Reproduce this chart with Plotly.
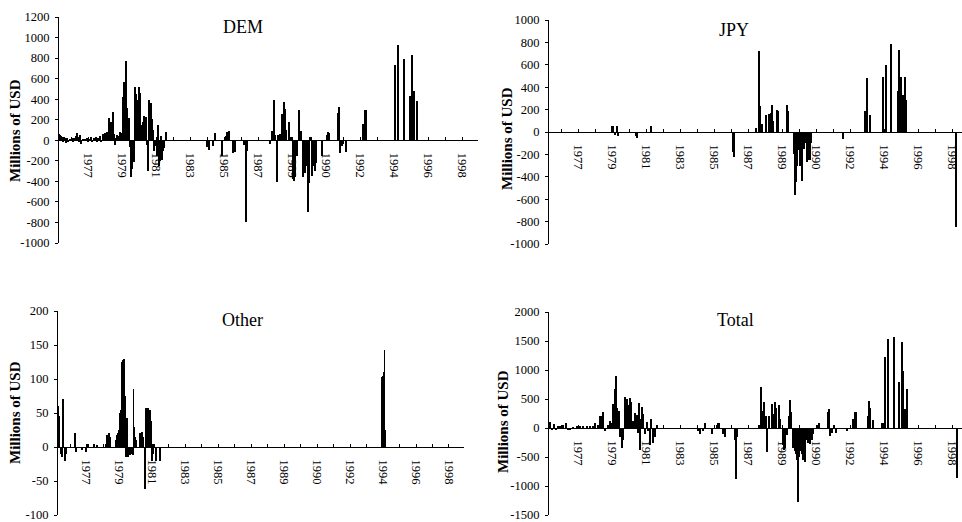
import plotly.graph_objects as go

W, H = 962, 522

year_labels = ['1977', '1979', '1981', '1983', '1985', '1987',
               '1989', '1990', '1992', '1994', '1996', '1998']

# observation index -> intervention amount (millions of USD)
dem_obs = [1, 2, 3, 4, 5, 6, 7, 8, 9, 10, 12, 14, 15, 16, 18, 19, 20, 21, 22, 23, 25, 27, 29, 30, 31, 33, 34, 36, 38, 39,
           40, 42, 43, 45, 46, 47, 48, 49, 50, 51, 52, 53, 54, 55, 56, 57, 58, 59, 60, 61, 62, 63, 64, 65, 66, 67, 68, 69,
           70, 71, 72, 73, 74, 75, 76, 77, 78, 79, 80, 81, 82, 83, 84, 85, 86, 88, 89, 90, 91, 92, 93, 94, 95, 96, 98, 99,
           100, 101, 102, 103, 104, 105, 106, 108, 149, 151, 155, 157, 164, 168, 169, 171, 175, 177, 186, 188, 189,
           212, 214, 216, 217, 219, 220, 222, 224, 225, 226, 227, 228, 231, 233, 235, 236, 237, 239, 241, 243, 245, 246,
           247, 249, 250, 251, 253, 254, 255, 257, 258, 264, 269, 270, 271, 280, 281, 282, 284, 285, 288, 305, 307, 308,
           337, 340, 346, 352, 354, 356, 359]
dem_val = [60, 50, 45, 30, -20, 35, 20, -30, 25, -15, 10, 20, -10, 25, 40, 70, 30, -20, 50, -40, 5, 10, 20, -10, 15, 30, -15, 20, 30, -10,
           25, 40, -20, 60, 30, 70, 50, 80, 40, 220, 160, 180, 130, 275, 60, -50, 20, 50, 30, 40, 80, 70, 60, 420, 570, 200, 770, 310,
           180, 220, -70, -360, -280, -200, -210, 520, 450, 390, 260, 520, 460, 50, 150, 180, 240, 230, -50, -300, 390, 170, 360, 210, 100, -100, -60, -150,
           150, -250, -200, 40, -190, -100, -80, 80, -70, -90, -60, 70, -150, 40, 80, 90, -120, -110, -50, -800, -100,
           -40, 90, 390, 50, -410, 50, 60, 260, 90, 370, 300, 100, 180, 30, -380, -400, -360, -150, 290, 90, -360, -200,
           -320, -250, -700, -420, 30, -350, -250, -300, -220, -150, 50, 80, 70, 270, 320, -120, -60, -40, -110, 160, 290, 290,
           730, 930, 790, 430, 830, 480, 380]

jpy_obs = [64, 65, 67, 69, 70, 88, 89, 103, 185, 186, 208, 211, 212, 214, 218, 221, 222, 223, 224, 225, 229, 230, 239, 240,
           246, 247, 248, 249, 250, 252, 253, 254, 256, 258, 259, 261, 262, 263, 295, 317, 319, 322, 335, 338, 343, 350,
           351, 353, 355, 357, 358, 408]
jpy_val = [50, 50, -30, 50, -40, -40, -50, 50, -180, -220, 40, 720, 230, 70, 150, 160, 40, 170, 240, 100, 200, 190, 240, 190,
           -200, -560, -450, -300, -160, -300, -300, -440, -150, -100, -270, -250, -250, -100, -60, 190, 480, 150, 490, 600, 790, 370,
           730, 490, 330, 490, 290, -850]

oth_obs = [1, 2, 4, 5, 6, 8, 9, 18, 19, 20, 26, 30, 32, 38, 41, 50, 52, 54, 55, 61, 62, 63, 64, 65, 66, 67, 68, 69, 70, 71,
           72, 73, 75, 77, 78, 79, 80, 81, 82, 86, 88, 89, 91, 92, 93, 94, 96, 97, 98, 99, 100, 102, 106,
           335, 336, 337, 338, 339]
oth_val = [60, 45, -10, -15, 70, -20, -10, 5, 20, -8, -5, -8, 5, 5, 3, 5, 18, 20, 15, 10, 18, 20, 25, 50, 55, 125, 128, 130, 75, -15,
           43, -15, -12, -10, -12, 86, 30, 15, 10, 20, 22, 14, -62, 58, 25, 58, 55, 38, -20, -10, 5, -20, -20,
           103, 104, 110, 143, 25]

tot_obs = [0, 2, 4, 6, 8, 10, 12, 15, 18, 20, 22, 25, 29, 32, 35, 39, 42, 45, 47, 50, 52, 53, 54, 55, 57, 60, 62, 64, 65, 67,
           68, 69, 71, 72, 74, 75, 77, 79, 80, 82, 83, 85, 87, 89, 90, 91, 92, 93, 94, 95, 97, 99, 100, 102, 103, 105, 106,
           107, 109, 150, 152, 155, 157, 164, 169, 170, 171, 175, 177, 187, 188, 189, 211, 213, 215, 216, 218, 219, 221,
           224, 225, 227, 228, 231, 232, 235, 236, 237, 239, 241, 242, 243, 245, 247, 248, 249, 250, 251, 253, 254, 255,
           257, 259, 260, 262, 264, 265, 269, 271, 280, 281, 282, 284, 286, 288, 299, 305, 307, 308, 320, 321, 322, 325,
           334, 336, 337, 340, 346, 351, 354, 355, 357, 359, 409]
tot_val = [120, 100, -30, 70, -20, 20, 30, 50, 80, -20, -30, 10, 20, 20, 30, 20, 30, 20, 80, 60, 210, 200, 150, 270, -50, 50, 120, 80, 420, 680,
           890, 350, 300, -150, -350, -200, 530, 500, 400, 510, 450, 120, 260, 230, -80, 430, -380, 150, 360, 250, -100, 100, -50, -300, 150, -250, -100,
           -150, 60, -60, -100, -50, 80, -100, 60, 80, 90, -100, -150, -200, -880, -150, 50, 700, 300, 450, 200, -420, 200,
           420, 250, 440, 350, 390, 150, -300, -380, -350, -120, 200, 490, 280, -350, -400, -450, -550, -1270, -500, -400, -450, -560,
           -580, -200, -250, -270, -200, -100, 60, 80, 280, 320, -130, -80, 50, -80, -60, 150, 280, 270, 200, 470, 350, 130,
           80, 90, 1230, 1540, 1570, 800, 1480, 980, 320, 680, -860]

FONT = 'Liberation Serif'

panels = [
    dict(title='DEM', obs=dem_obs, val=dem_val, yr=(-1000, 1200), dt=200, px=(58, 478), py=(17, 243), xr=420,
         t=(243, 27), yt=(15, 131)),
    dict(title='JPY', obs=jpy_obs, val=jpy_val, yr=(-1000, 1000), dt=200, px=(548, 962), py=(20, 244), xr=414,
         t=(734, 30), yt=(507, 138)),
    dict(title='Other', obs=oth_obs, val=oth_val, yr=(-100, 200), dt=50, px=(57, 464), py=(311, 515), xr=420,
         t=(242, 320), yt=(15, 413)),
    dict(title='Total', obs=tot_obs, val=tot_val, yr=(-1500, 2000), dt=500, px=(548, 962), py=(312, 515), xr=414,
         t=(735, 320), yt=(503, 421)),
]

label_pos = [30.5 + 34 * k for k in range(len(year_labels))]

fig = go.Figure()
annotations = []
for i, p in enumerate(panels, start=1):
    xs = 'x' if i == 1 else f'x{i}'
    ys = 'y' if i == 1 else f'y{i}'
    xd = [p['px'][0] / W, p['px'][1] / W]
    yd = [1 - p['py'][1] / H, 1 - p['py'][0] / H]
    y0, y1 = p['yr']
    zero_pos = yd[0] + (0 - y0) / (y1 - y0) * (yd[1] - yd[0])
    fig.add_trace(go.Bar(x=p['obs'], y=p['val'], width=0.9, marker=dict(color='black', line=dict(width=0)),
                         xaxis=xs, yaxis=ys, showlegend=False, hoverinfo='skip'))
    yticks = list(range(y0, y1 + 1, p['dt']))
    xa = dict(domain=xd, range=[0, p['xr']], anchor='free', position=zero_pos, automargin=False,
              ticklabeloverflow='allow',
              showline=True, linecolor='black', linewidth=1, showgrid=False, zeroline=False,
              tickmode='array', tickvals=label_pos, ticktext=year_labels,
              ticks='inside', ticklen=3, tickcolor='black', tickangle=90, ticklabelstandoff=9,
              tickfont=dict(family=FONT, size=12.5, color='black'),
              minor=dict(ticks='inside', ticklen=3, tick0=13.5, dtick=17, tickcolor='black', showgrid=False))
    ya = dict(domain=yd, range=[y0, y1], anchor='free', position=xd[0], automargin=False,
              ticklabeloverflow='allow',
              showline=True, linecolor='black', linewidth=1, showgrid=False, zeroline=False,
              tickmode='array', tickvals=yticks, ticktext=[str(v) for v in yticks],
              ticks='outside', ticklen=3, tickcolor='black', ticklabelstandoff=3,
              tickfont=dict(family=FONT, size=12.5, color='black'))
    fig.layout['xaxis' if i == 1 else f'xaxis{i}'] = xa
    fig.layout['yaxis' if i == 1 else f'yaxis{i}'] = ya
    annotations.append(dict(text=p['title'], x=p['t'][0] / W, y=1 - p['t'][1] / H, xref='paper', yref='paper',
                            showarrow=False, xanchor='center', yanchor='middle',
                            font=dict(family=FONT, size=18, color='black')))
    annotations.append(dict(text='<b>Millions of USD</b>', x=p['yt'][0] / W, y=1 - p['yt'][1] / H,
                            xref='paper', yref='paper', showarrow=False, textangle=-90,
                            xanchor='center', yanchor='middle',
                            font=dict(family=FONT, size=15, color='black')))

fig.update_layout(width=W, height=H, margin=dict(l=0, r=0, t=0, b=0, autoexpand=False),
                  paper_bgcolor='white', plot_bgcolor='white', bargap=0,
                  annotations=annotations)

fig.write_html('out.html', config={'displayModeBar': False},
               post_script="document.body.style.margin='0';document.body.style.overflow='hidden';")
